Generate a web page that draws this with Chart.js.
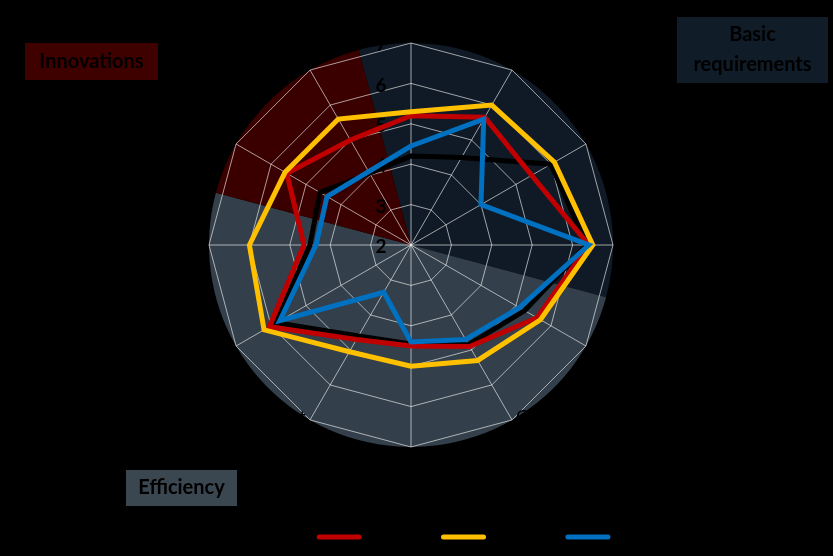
<!DOCTYPE html>
<html>
<head>
<meta charset="utf-8">
<script src="https://cdn.jsdelivr.net/npm/chart.js@4.4.1/dist/chart.umd.min.js"></script>
<style>
  html, body { margin: 0; padding: 0; background: #000; }
  #grafico { display: block; }
</style>
</head>
<body>
<canvas id="grafico" width="833" height="556"></canvas>
<script>
// 12 pilares, do topo no sentido horario
var pilares = [
  ["Institutions"], ["Infrastructure"], ["Macroeconomic", "environment"], ["Health and primary", "education"],
  ["Higher education", "and training"], ["Goods market", "efficiency"], ["Labor market", "efficiency"],
  ["Financial market", "development"], ["Technological", "readiness"], ["Market size"],
  ["Business", "sophistication"], ["Innovation"]
];
var marcas = [2, 3, 4, 5, 6, 7];

var nomes = ["Regional average", "Country A", "Country B", "Country C"];
var serieMedia = [4.2, 4.5, 6.0, 6.35, 5.25, 4.85, 4.45, 4.6, 5.85, 4.5, 4.6, 4.05];
var serieA = [5.2, 5.65, 5.45, 6.4, 5.6, 4.9, 4.5, 4.7, 6.05, 4.65, 5.55, 5.0];
var serieB = [5.3, 6.0, 6.1, 6.5, 5.7, 5.3, 5.0, 5.05, 6.2, 6.0, 5.6, 5.6];
var serieC = [4.45, 5.6, 4.0, 6.4, 5.1, 4.7, 4.4, 3.35, 5.75, 4.35, 4.4, 4.1];

// grupos de pilares (indice inicial e final)
var grupos = [
  { nome: ["Basic", "requirements"], de: 0, ate: 3, cor: "#0f1a26", caixa: [677, 17, 151, 66] },
  { nome: ["Efficiency"], de: 4, ate: 9, cor: "#333f4a", caixa: [126, 470, 111, 36] },
  { nome: ["Innovations"], de: 10, ate: 11, cor: "#3a0000", caixa: [25, 43, 133, 37] }
];

var fundo = {
  id: "fundo",
  beforeDraw: function(chart) {
    var ctx = chart.ctx;
    var r = chart.scales.r;
    var passo = Math.PI * 2 / pilares.length;
    ctx.save();
    grupos.forEach(function(g) {
      var ini = g.de * passo - passo / 2 - Math.PI / 2;
      var fim = g.ate * passo + passo / 2 - Math.PI / 2;
      ctx.beginPath();
      ctx.moveTo(r.xCenter, r.yCenter);
      ctx.arc(r.xCenter, r.yCenter, r.drawingArea, ini, fim);
      ctx.closePath();
      ctx.fillStyle = g.cor;
      ctx.fill();
      // caixa com o nome do grupo
      var c = g.caixa;
      ctx.fillStyle = g.cor === "#333f4a" ? "#3a4650" : (g.cor === "#3a0000" ? "#3f0000" : "#111c29");
      ctx.fillRect(c[0], c[1], c[2], c[3]);
      ctx.fillStyle = "#000";
      ctx.font = "bold 20px Lato";
      ctx.textAlign = "center";
      ctx.textBaseline = "middle";
      var lh = 30;
      var y0 = c[1] + c[3] / 2 - (g.nome.length - 1) * lh / 2;
      g.nome.forEach(function(t, k) {
        ctx.fillText(t, c[0] + c[2] / 2, y0 + k * lh);
      });
    });
    ctx.restore();
  },
  beforeDatasetsDraw: function(chart) {
    var ctx = chart.ctx;
    var r = chart.scales.r;
    ctx.save();
    ctx.fillStyle = "#000";
    // numeros da escala
    ctx.font = "bold 19px Lato";
    ctx.textAlign = "center";
    ctx.textBaseline = "middle";
    marcas.forEach(function(v) {
      var d = r.getDistanceFromCenterForValue(v);
      ctx.fillText(String(v), r.xCenter - 30, r.yCenter - d + 2);
    });
    // nomes dos pilares
    ctx.font = "18px Lato";
    pilares.forEach(function(lbl, i) {
      var p = r.getPointPosition(i, r.drawingArea + 8);
      var dx = p.x - r.xCenter, dy = p.y - r.yCenter;
      ctx.textAlign = Math.abs(dx) < 1 ? "center" : (dx > 0 ? "left" : "right");
      var lh = 20, h = lbl.length * lh;
      var y0;
      if (Math.abs(dx) < 1 && dy < 0) y0 = p.y - h;
      else if (Math.abs(dx) < 1) y0 = p.y;
      else if (dy < -1) y0 = p.y - h;
      else y0 = p.y - h / 2;
      lbl.forEach(function(t, k) {
        ctx.fillText(t, p.x, y0 + lh / 2 + k * lh);
      });
    });
    ctx.restore();
  }
};

function serie(nome, valores, cor) {
  return {
    label: nome,
    data: valores,
    borderColor: cor,
    backgroundColor: cor,
    borderWidth: 5,
    fill: false,
    pointRadius: 0,
    pointHoverRadius: 0,
    pointStyle: "line",
    pointBorderColor: cor,
    pointBorderWidth: 5
  };
}

var grade = "rgba(255,255,255,0.6)";

new Chart(document.getElementById("grafico"), {
  type: "radar",
  data: {
    labels: pilares,
    datasets: [
      serie(nomes[3], serieC, "#0070c0"),
      serie(nomes[2], serieB, "#ffc000"),
      serie(nomes[1], serieA, "#c00000"),
      serie(nomes[0], serieMedia, "#000000")
    ]
  },
  options: {
    responsive: false,
    animation: false,
    devicePixelRatio: 1,
    layout: { padding: { top: 43, bottom: 3, left: 0, right: 11 } },
    scales: {
      r: {
        min: 2,
        max: 7,
        ticks: { display: false, stepSize: 1 },
        grid: { color: grade, lineWidth: 1 },
        angleLines: { color: grade, lineWidth: 1 },
        pointLabels: { display: false }
      }
    },
    plugins: {
      tooltip: { enabled: false },
      legend: {
        position: "bottom",
        reverse: true,
        title: { display: true, text: " ", color: "#000", font: { size: 12 }, padding: { top: 44, bottom: 0 } },
        labels: {
          color: "#000",
          font: { size: 12 },
          usePointStyle: true,
          pointStyleWidth: 40,
          padding: 25,
          generateLabels: function(chart) {
            var itens = Chart.defaults.plugins.legend.labels.generateLabels(chart);
            itens.forEach(function(it) { it.lineCap = "round"; });
            return itens;
          }
        }
      }
    }
  },
  plugins: [fundo]
});
</script>
</body>
</html>
